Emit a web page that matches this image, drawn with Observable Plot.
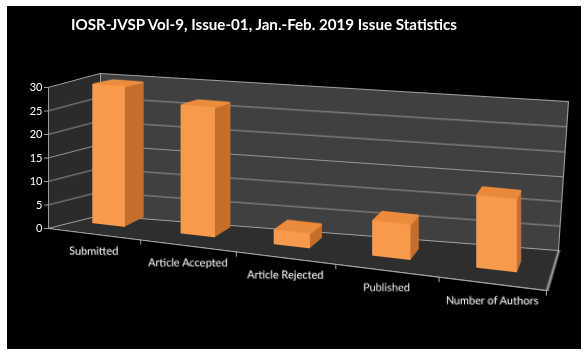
<!DOCTYPE html>
<html><head><meta charset="utf-8">
<script src="https://cdn.jsdelivr.net/npm/d3@7"></script>
<script src="https://cdn.jsdelivr.net/npm/@observablehq/plot@0.6"></script>
<style>
html,body{margin:0;padding:0;background:#fff;}
#stage{position:relative;width:588px;height:355px;overflow:hidden;}
#bg{position:absolute;left:7px;top:6px;width:574px;height:343px;background:#000;}
.layer{position:absolute;left:0;top:0;transform-origin:0 0;}
</style></head>
<body><div id="stage"><div id="bg"></div></div>
<script>
// ---- data ----
const categories = ["Submitted", "Article Accepted", "Article Rejected", "Published", "Number of Authors"];
const values = [30, 27, 3, 7, 14];
const yTicks = [0, 5, 10, 15, 20, 25, 30];
const titleText = "IOSR-JVSP Vol-9, Issue-01, Jan.-Feb. 2019 Issue Statistics";
const data = categories.map((c, i) => ({category: c, value: values[i]}));

// ---- layout of the 3D planes (screen quads) ----
const BACK_WALL = [[100,73],[568,101],[558,250],[100,215]];
const SIDE_WALL = [[48,87],[100,73],[100,215],[48,228]];
const FLOOR = [[100,215],[558,250],[546,290],[48,228]];
const FRONT_EDGE = [[48,228],[546,290],[546,295.5],[48,233]];
const BAR_ANCHORS = [[108.5,225],[108.5,85],[496.5,270],[496.5,113.6]];
const BAR_VP = [632,-28], BAR_DEPTH = 0.037, DEPTH_LAYERS = 16;
const LABEL_OFFSET = 17.5;

const style = {background: "transparent", color: "#fff", fontFamily: "Lato, 'DejaVu Sans', sans-serif", fontSize: "11px", overflow: "visible"};
const gridColor = "#959595", edgeColor = "#a0a0a0";
const frontColor = "#F9994B", sideColor = "#C46E2C", topColor = "#EC8B3E";
const stage = document.getElementById("stage");

// ---- homography helpers ----
function solve(A, b) {
  const n = b.length;
  const M = A.map((r, i) => r.concat([b[i]]));
  for (let c = 0; c < n; c++) {
    let p = c;
    for (let r = c + 1; r < n; r++) if (Math.abs(M[r][c]) > Math.abs(M[p][c])) p = r;
    [M[c], M[p]] = [M[p], M[c]];
    for (let r = 0; r < n; r++) {
      if (r === c) continue;
      const f = M[r][c] / M[c][c];
      for (let k = c; k <= n; k++) M[r][k] -= f * M[c][k];
    }
  }
  return M.map((row, i) => row[n] / row[i]);
}
function homography(src, dst) {
  const A = [], b = [];
  for (let i = 0; i < 4; i++) {
    const [x, y] = src[i], [X, Y] = dst[i];
    A.push([x, y, 1, 0, 0, 0, -x * X, -y * X]); b.push(X);
    A.push([0, 0, 0, x, y, 1, -x * Y, -y * Y]); b.push(Y);
  }
  const h = solve(A, b);
  return [[h[0], h[1], h[2]], [h[3], h[4], h[5]], [h[6], h[7], 1]];
}
function mul(A, B) {
  return A.map((r, i) => [0, 1, 2].map(j => r[0] * B[0][j] + r[1] * B[1][j] + r[2] * B[2][j]));
}
function homothety(v, s) { return [[s, 0, (1 - s) * v[0]], [0, s, (1 - s) * v[1]], [0, 0, 1]]; }
function toCss(H) {
  return `matrix3d(${H[0][0]},${H[1][0]},0,${H[2][0]},${H[0][1]},${H[1][1]},0,${H[2][1]},0,0,1,0,${H[0][2]},${H[1][2]},0,${H[2][2]})`;
}
function mount(svg, H) {
  svg.classList.add("layer");
  svg.style.position = "absolute";
  svg.style.left = "0px"; svg.style.top = "0px";
  svg.style.transformOrigin = "0 0";
  svg.style.maxWidth = "none";
  if (H) svg.style.transform = toCss(H);
  stage.appendChild(svg);
}
function frameQuad(W, H, m) { return [[m, m], [W - m, m], [W - m, H - m], [m, H - m]]; }

// ---- walls and floor ----
function panel(W, H, m, fill, grid) {
  return Plot.plot({
    width: W, height: H, marginTop: m, marginBottom: m, marginLeft: m, marginRight: m,
    y: {domain: [0, 30], axis: null}, style,
    marks: [
      Plot.frame({fill}),
      grid ? Plot.ruleY(yTicks, {stroke: gridColor}) : null,
      Plot.frame({stroke: edgeColor})
    ]
  });
}
mount(panel(460, 60, 2, "#2e2e2e", false), homography(frameQuad(460, 60, 2), FLOOR));
mount(panel(60, 150, 2, "#2b2b2b", true), homography(frameQuad(60, 150, 2), SIDE_WALL));
mount(panel(460, 150, 2, "#404040", true), homography(frameQuad(460, 150, 2), BACK_WALL));

// ---- bars (extruded toward the vanishing point) ----
function barsChart(fill, withTop) {
  return Plot.plot({
    width: 540, height: 160, marginLeft: 20, marginRight: 20, marginTop: 10, marginBottom: 10,
    x: {type: "band", domain: categories, padding: 0.62, axis: null},
    y: {domain: [0, 30], axis: null}, style,
    marks: [
      Plot.barY(data, {x: "category", y: "value", fill}),
      withTop ? Plot.tickY(data, {x: "category", y: "value", stroke: topColor, strokeWidth: 1.6}) : null
    ]
  });
}
const frontBars = barsChart(frontColor, false);
const sx = frontBars.scale("x"), sy = frontBars.scale("y");
const cx = c => sx.apply(c) + sx.bandwidth / 2;
const first = categories[0], last = categories[categories.length - 1];
const Hbars = homography(
  [[cx(first), sy.apply(0)], [cx(first), sy.apply(30)], [cx(last), sy.apply(0)], [cx(last), sy.apply(30)]],
  BAR_ANCHORS
);
for (let i = DEPTH_LAYERS; i >= 1; i--) {
  const s = 1 - BAR_DEPTH * i / DEPTH_LAYERS;
  mount(barsChart(sideColor, true), mul(homothety(BAR_VP, s), Hbars));
}
mount(frontBars, Hbars);

// ---- front edge with ticks and category labels ----
const FW = 520, FH = 70;
const front = Plot.plot({
  width: FW, height: FH, marginLeft: 10, marginRight: 10, marginTop: 10, marginBottom: FH - 15,
  x: {type: "band", domain: categories, padding: 0, axis: null},
  y: {domain: [0, 1], axis: null}, style,
  marks: [
    Plot.ruleY([1], {stroke: edgeColor}),
    Plot.ruleX(categories, {x: d => d, y1: 0, y2: 1, dx: (FW - 20) / categories.length / 2, stroke: edgeColor}),
    Plot.text(categories, {x: d => d, text: d => d, frameAnchor: "top", fill: "#fff"})
  ]
});
const Hfront = homography([[10, 10], [FW - 10, 10], [FW - 10, 15], [10, 15]], FRONT_EDGE);
{
  const fx = front.scale("x");
  const texts = front.querySelectorAll('g[aria-label="text"] text');
  texts.forEach((t, i) => {
    const px = fx.apply(categories[i]) + fx.bandwidth / 2, py = 10;
    const H = Hfront;
    const w = H[2][0] * px + H[2][1] * py + H[2][2];
    const X = (H[0][0] * px + H[0][1] * py + H[0][2]) / w;
    const Y = (H[1][0] * px + H[1][1] * py + H[1][2]) / w;
    const a = (H[0][0] - X * H[2][0]) / w, b = (H[0][1] - X * H[2][1]) / w;
    const c = (H[1][0] - Y * H[2][0]) / w, d = (H[1][1] - Y * H[2][1]) / w;
    const det = a * d - b * c;
    const m00 = d / det, m01 = -b / det, m10 = -c / det, m11 = a / det;
    t.removeAttribute("x"); t.removeAttribute("y");
    t.setAttribute("transform", `translate(${px},${py}) matrix(${m00},${m10},${m01},${m11},0,0) translate(0,${LABEL_OFFSET})`);
    t.setAttribute("dy", "0.32em");
    t.setAttribute("text-anchor", "middle");
  });
  const g = front.querySelector('g[aria-label="text"]');
  if (g) g.removeAttribute("transform");
}
mount(front, Hfront);

// ---- value axis (front-left edge) ----
const yAxis = Plot.plot({
  width: 60, height: 355, marginLeft: 48, marginRight: 11, marginTop: 87, marginBottom: 355 - 228,
  y: {domain: [0, 30], ticks: yTicks, tickSize: 4, tickPadding: 2, label: null},
  style,
  marks: [Plot.ruleY(yTicks, {strokeOpacity: 0})]
});
yAxis.querySelectorAll('g[aria-label^="y-axis"] line, g[aria-label^="y-axis"] path').forEach(e => e.setAttribute("stroke", edgeColor));
mount(yAxis, null);

// ---- title ----
const ns = "http://www.w3.org/2000/svg";
const tsvg = document.createElementNS(ns, "svg");
tsvg.setAttribute("width", 588); tsvg.setAttribute("height", 40);
tsvg.setAttribute("style", "position:absolute;left:0;top:0");
const tt = document.createElementNS(ns, "text");
tt.setAttribute("x", 264); tt.setAttribute("y", 29.5);
tt.setAttribute("text-anchor", "middle");
tt.setAttribute("textLength", 386);
tt.setAttribute("lengthAdjust", "spacingAndGlyphs");
tt.setAttribute("font-family", "Lato, 'DejaVu Sans', sans-serif");
tt.setAttribute("font-weight", "bold");
tt.setAttribute("font-size", 15);
tt.setAttribute("fill", "#fff");
tt.textContent = titleText;
tsvg.appendChild(tt);
stage.appendChild(tsvg);
</script>
</body></html>
